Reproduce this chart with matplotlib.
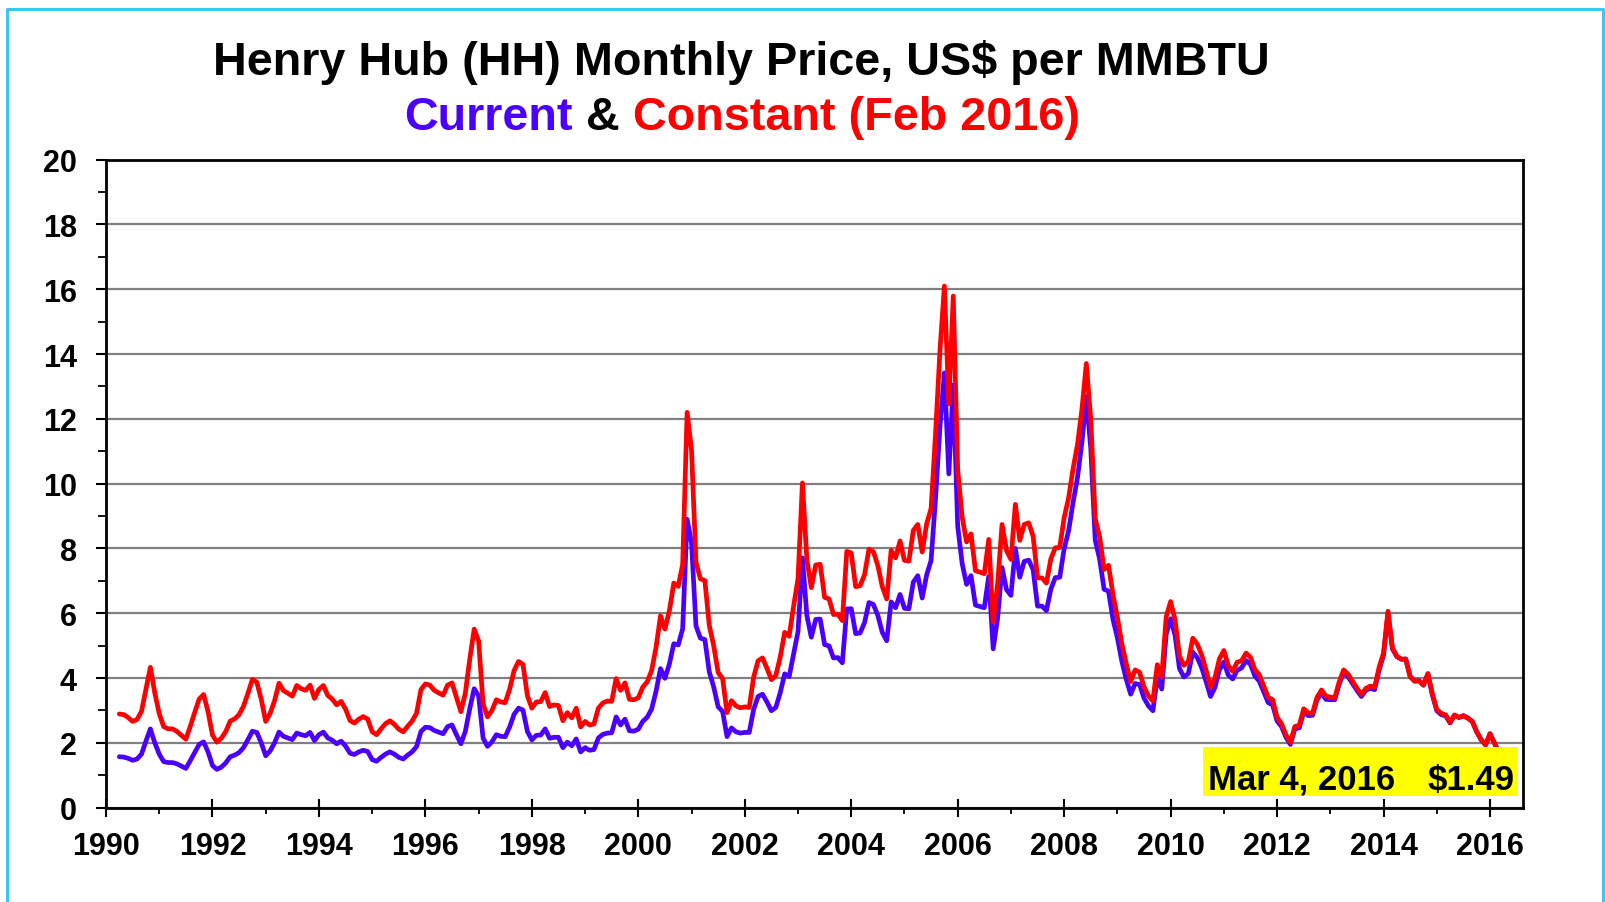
import numpy as np
import matplotlib
matplotlib.use("Agg")
import matplotlib.pyplot as plt
from matplotlib.lines import Line2D
from matplotlib.patches import Rectangle
from matplotlib.ticker import MultipleLocator

# ---------------- data (monthly, starting April 1990) ----------------
start_year = 1990
start_month = 4

current_price = [
    1.57, 1.56, 1.52, 1.46, 1.50, 1.65, 2.05, 2.43, 2.00,                      # 1990 Apr-Dec
    1.65, 1.42, 1.39, 1.39, 1.35, 1.28, 1.21, 1.45, 1.70, 1.95, 2.03, 1.72,    # 1991
    1.30, 1.18, 1.25, 1.38, 1.57, 1.62, 1.70, 1.85, 2.10, 2.36, 2.32, 2.00,    # 1992
    1.60, 1.75, 2.00, 2.33, 2.20, 2.15, 2.10, 2.30, 2.25, 2.22, 2.32, 2.07,    # 1993
    2.25, 2.33, 2.15, 2.08, 1.97, 2.05, 1.90, 1.68, 1.64, 1.72, 1.77, 1.73,    # 1994
    1.48, 1.43, 1.55, 1.65, 1.72, 1.65, 1.55, 1.50, 1.62, 1.72, 1.88, 2.35,    # 1995
    2.48, 2.47, 2.38, 2.33, 2.28, 2.50, 2.55, 2.25, 1.97, 2.35, 3.05, 3.67,    # 1996
    3.45, 2.15, 1.89, 2.03, 2.25, 2.20, 2.19, 2.49, 2.88, 3.07, 3.01, 2.35,    # 1997
    2.09, 2.23, 2.24, 2.43, 2.14, 2.17, 2.17, 1.85, 2.02, 1.91, 2.12, 1.72,    # 1998
    1.85, 1.77, 1.79, 2.15, 2.26, 2.30, 2.31, 2.80, 2.55, 2.73, 2.37, 2.36,    # 1999
    2.42, 2.66, 2.79, 3.04, 3.59, 4.29, 3.99, 4.43, 5.06, 5.02, 5.52, 8.90,    # 2000
    8.17, 5.61, 5.23, 5.19, 4.19, 3.72, 3.11, 2.97, 2.19, 2.46, 2.34, 2.30,    # 2001
    2.32, 2.32, 3.03, 3.43, 3.50, 3.26, 2.99, 3.09, 3.55, 4.13, 4.04, 4.74,    # 2002
    5.43, 7.71, 5.93, 5.26, 5.81, 5.82, 5.03, 4.99, 4.62, 4.63, 4.47, 6.13,    # 2003
    6.14, 5.37, 5.39, 5.71, 6.33, 6.27, 5.93, 5.41, 5.15, 6.35, 6.17, 6.58,    # 2004
    6.15, 6.14, 6.96, 7.16, 6.47, 7.18, 7.63, 9.53, 11.75, 13.42, 10.30, 13.05,  # 2005
    8.69, 7.54, 6.89, 7.16, 6.25, 6.21, 6.17, 7.14, 4.90, 5.85, 7.41, 6.73,    # 2006
    6.55, 8.00, 7.11, 7.60, 7.64, 7.35, 6.22, 6.22, 6.08, 6.74, 7.10, 7.11,    # 2007
    7.99, 8.54, 9.41, 10.18, 11.27, 12.69, 11.09, 8.26, 7.67, 6.74, 6.68, 5.82,  # 2008
    5.24, 4.52, 3.96, 3.50, 3.83, 3.80, 3.38, 3.14, 2.99, 4.01, 3.66, 5.35,    # 2009
    5.83, 5.32, 4.29, 4.03, 4.14, 4.80, 4.63, 4.32, 3.89, 3.43, 3.71, 4.25,    # 2010
    4.49, 4.09, 3.97, 4.24, 4.31, 4.54, 4.42, 4.06, 3.90, 3.57, 3.24, 3.17,    # 2011
    2.67, 2.50, 2.17, 1.95, 2.43, 2.46, 2.95, 2.84, 2.85, 3.32, 3.54, 3.34,    # 2012
    3.33, 3.33, 3.81, 4.17, 4.04, 3.83, 3.62, 3.43, 3.62, 3.68, 3.64, 4.24,    # 2013
    4.71, 6.00, 4.90, 4.66, 4.58, 4.59, 4.05, 3.91, 3.92, 3.78, 4.12, 3.48,    # 2014
    2.99, 2.87, 2.83, 2.61, 2.85, 2.78, 2.84, 2.77, 2.66, 2.34, 2.09, 1.93,    # 2015
    2.28, 1.99, 1.70,                                                          # 2016 Jan-Mar
]

constant_price = [
    2.89, 2.87, 2.78, 2.66, 2.72, 2.97, 3.65, 4.33, 3.54,                      # 1990 Apr-Dec
    2.90, 2.50, 2.43, 2.43, 2.35, 2.23, 2.11, 2.51, 2.94, 3.35, 3.49, 2.96,    # 1991
    2.24, 2.02, 2.14, 2.35, 2.67, 2.74, 2.87, 3.13, 3.53, 3.96, 3.87, 3.34,    # 1992
    2.66, 2.91, 3.30, 3.84, 3.61, 3.53, 3.44, 3.77, 3.67, 3.62, 3.78, 3.37,    # 1993
    3.65, 3.77, 3.46, 3.35, 3.17, 3.28, 3.04, 2.69, 2.61, 2.73, 2.81, 2.73,    # 1994
    2.34, 2.25, 2.43, 2.59, 2.68, 2.57, 2.42, 2.34, 2.51, 2.67, 2.91, 3.64,    # 1995
    3.82, 3.78, 3.62, 3.54, 3.47, 3.78, 3.85, 3.40, 2.96, 3.53, 4.58, 5.51,    # 1996
    5.14, 3.20, 2.80, 3.00, 3.33, 3.26, 3.24, 3.66, 4.23, 4.51, 4.42, 3.45,    # 1997
    3.07, 3.26, 3.27, 3.55, 3.12, 3.17, 3.15, 2.68, 2.93, 2.77, 3.07, 2.49,    # 1998
    2.66, 2.55, 2.58, 3.07, 3.23, 3.29, 3.28, 3.98, 3.62, 3.85, 3.34, 3.33,    # 1999
    3.39, 3.72, 3.88, 4.23, 4.95, 5.92, 5.51, 6.07, 6.93, 6.83, 7.51, 12.20,   # 2000
    11.03, 7.57, 7.06, 7.01, 5.62, 4.99, 4.17, 3.98, 2.93, 3.30, 3.14, 3.08,   # 2001
    3.11, 3.09, 4.03, 4.53, 4.62, 4.30, 3.95, 4.08, 4.65, 5.41, 5.29, 6.21,    # 2002
    7.06, 10.02, 7.65, 6.79, 7.49, 7.51, 6.49, 6.44, 5.96, 5.97, 5.77, 7.91,   # 2003
    7.86, 6.82, 6.85, 7.19, 7.98, 7.90, 7.47, 6.82, 6.44, 7.94, 7.71, 8.23,    # 2004
    7.63, 7.61, 8.56, 8.74, 7.89, 8.76, 9.23, 11.53, 14.10, 16.10, 12.46, 15.79,  # 2005
    10.43, 8.97, 8.20, 8.45, 7.31, 7.27, 7.22, 8.28, 5.73, 6.90, 8.74, 7.94,   # 2006
    7.66, 9.36, 8.25, 8.74, 8.79, 8.38, 7.09, 7.09, 6.93, 7.68, 8.02, 8.03,    # 2007
    8.95, 9.56, 10.45, 11.20, 12.28, 13.71, 11.98, 8.92, 8.36, 7.35, 7.48, 6.58,  # 2008
    5.87, 5.06, 4.44, 3.89, 4.25, 4.18, 3.72, 3.45, 3.29, 4.41, 4.03, 5.89,    # 2009
    6.36, 5.80, 4.68, 4.39, 4.51, 5.23, 5.05, 4.71, 4.24, 3.71, 4.01, 4.59,    # 2010
    4.85, 4.38, 4.21, 4.49, 4.53, 4.77, 4.64, 4.26, 4.10, 3.75, 3.40, 3.33,    # 2011
    2.78, 2.59, 2.24, 2.01, 2.50, 2.54, 3.05, 2.92, 2.92, 3.40, 3.63, 3.44,    # 2012
    3.41, 3.39, 3.88, 4.25, 4.12, 3.90, 3.69, 3.49, 3.68, 3.75, 3.72, 4.33,    # 2013
    4.77, 6.06, 4.93, 4.67, 4.58, 4.58, 4.04, 3.90, 3.91, 3.78, 4.14, 3.51,    # 2014
    3.03, 2.91, 2.86, 2.63, 2.86, 2.78, 2.83, 2.76, 2.66, 2.34, 2.10, 1.94,    # 2015
    2.28, 1.99, 1.70,                                                          # 2016 Jan-Mar
]

x_tick_years = list(range(1990, 2017, 2))
y_tick_values = list(range(0, 21, 2))
title_text = "Henry Hub (HH) Monthly Price, US$ per MMBTU"
subtitle_current = "Current"
subtitle_amp = "&"
subtitle_constant = "Constant (Feb 2016)"
note_date = "Mar 4, 2016"
note_price = "$1.49"

# ---------------- styling ----------------
BLUE = "#4B00FF"
RED = "#FF0000"
BORDER = "#3CC6F2"
YELLOW = "#FFFF00"
plt.rcParams["font.family"] = ["Liberation Sans", "DejaVu Sans"]

W, H = 1605, 903
fig = plt.figure(figsize=(W / 100, H / 100), dpi=100)
fig.patch.set_facecolor("white")

def fx(px):
    return px / W

def fy(py):
    return 1 - py / H

# axes
left, right, top, bottom = 106, 1523, 160.7, 808.6
ax = fig.add_axes([fx(left), fy(bottom), (right - left) / W, (bottom - top) / H])

n = len(current_price)
t = start_year + (np.arange(n) + start_month - 1) / 12.0

ax.plot(t, current_price, color=BLUE, lw=3.4, solid_joinstyle="round",
        solid_capstyle="round", zorder=3)
ax.plot(t, constant_price, color=RED, lw=3.4, solid_joinstyle="round",
        solid_capstyle="round", zorder=4)

ax.set_xlim(1990, 2016.62)
ax.set_ylim(0, 20)
ax.set_xticks(x_tick_years)
ax.set_xticklabels([str(y) for y in x_tick_years], fontweight="bold")
ax.xaxis.set_minor_locator(MultipleLocator(1))
ax.set_yticks(y_tick_values)
ax.set_yticklabels([str(v) for v in y_tick_values], fontweight="bold")
ax.yaxis.set_minor_locator(MultipleLocator(1))

ax.grid(axis="y", which="major", color="#808080", lw=1.6, zorder=1)
ax.set_axisbelow(True)
for s in ax.spines.values():
    s.set_linewidth(2.0)
    s.set_color("black")
    s.set_zorder(6)

ax.tick_params(axis="x", which="major", direction="inout", length=13, width=1.5,
               pad=10.5, labelsize=22)
ax.tick_params(axis="x", which="minor", direction="out", length=4, width=1.3)
ax.tick_params(axis="y", which="major", direction="out", length=7, width=1.5,
               pad=14, labelsize=22)
ax.tick_params(axis="y", which="minor", direction="out", length=6, width=1.3)

# title
fig.text(fx(741), fy(75), title_text, ha="center", va="baseline", fontsize=33.7,
         fontweight="bold", color="black", parse_math=False)

# multicolour subtitle
renderer = fig.canvas.get_renderer()
SUB_FS = 33.7
full_sub = f"{subtitle_current} {subtitle_amp} {subtitle_constant}"
def text_width(s):
    tt = fig.text(0, 0, s, fontsize=SUB_FS, fontweight="bold", parse_math=False)
    w = tt.get_window_extent(renderer).width
    tt.remove()
    return w

w_full = text_width(full_sub)
w_to_amp = text_width(f"{subtitle_current} {subtitle_amp}") - text_width(subtitle_amp)
w_const = text_width(subtitle_constant)
x0 = 742 - w_full / 2
sub_base = fy(130)
fig.text(fx(x0), sub_base, subtitle_current, color=BLUE, ha="left", va="baseline",
         fontsize=SUB_FS, fontweight="bold")
fig.text(fx(x0 + w_to_amp), sub_base, subtitle_amp, color="black", ha="left",
         va="baseline", fontsize=SUB_FS, fontweight="bold")
fig.text(fx(x0 + w_full - w_const), sub_base, subtitle_constant, color=RED, ha="left",
         va="baseline", fontsize=SUB_FS, fontweight="bold")

# annotation box
box = Rectangle((fx(1203), fy(797)), (1518 - 1203) / W, (797 - 748) / H,
                transform=fig.transFigure, facecolor=YELLOW, edgecolor="none", zorder=10)
fig.add_artist(box)
fig.text(fx(1208), fy(790), note_date, ha="left", va="baseline", fontsize=25,
         fontweight="bold", color="black", zorder=11, parse_math=False)
fig.text(fx(1515), fy(790), note_price, ha="right", va="baseline", fontsize=25,
         fontweight="bold", color="black", zorder=11, parse_math=False)

# light-blue page border
border = Line2D([fx(7), fx(7), fx(1603), fx(1603)], [fy(910), fy(10), fy(10), fy(910)],
                transform=fig.transFigure, color=BORDER, lw=2.2, zorder=12)
fig.add_artist(border)

fig.savefig("out.png", dpi=100, facecolor="white")
